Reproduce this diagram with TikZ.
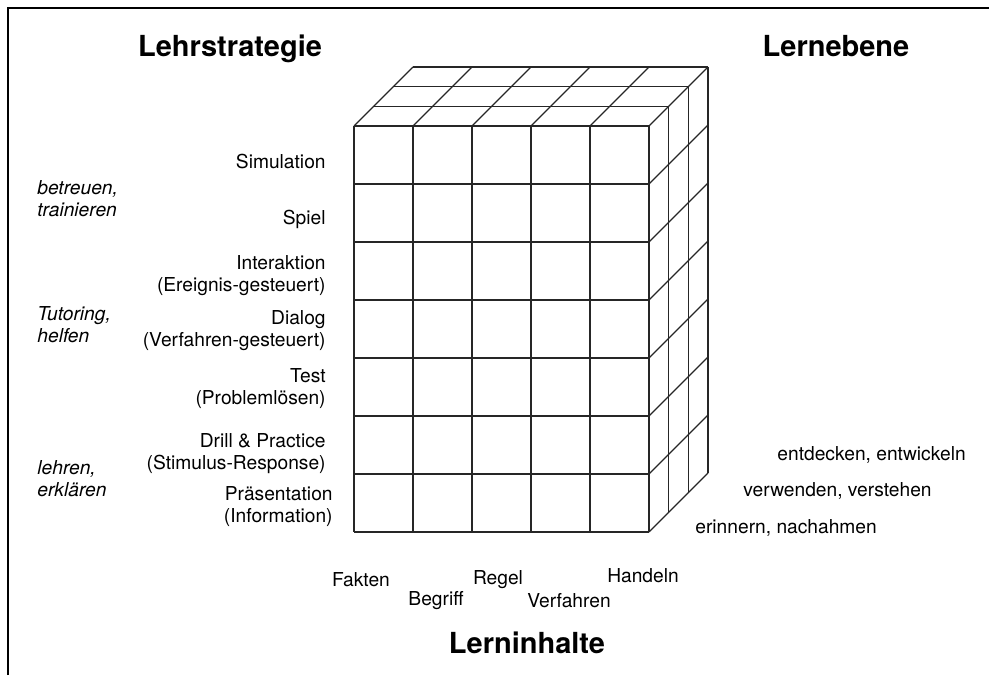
\documentclass[tikz,border=0pt]{standalone}
\usepackage{fontspec}
\setmainfont{TeX Gyre Heros}
\usetikzlibrary{positioning}
\tikzset{
  frm/.style  ={line width=1pt, black},
  cube/.style ={line width=0.6pt, black!85},
  strat/.style={font=\fontsize{9.6}{11}\selectfont, align=right,
                anchor=east, inner sep=0pt},
  mode/.style ={font=\fontsize{9.6}{11}\selectfont\itshape, align=left,
                anchor=west, inner sep=0pt},
  lvl/.style  ={font=\fontsize{9.6}{11}\selectfont, anchor=west,
                inner sep=0pt},
  cnt/.style  ={font=\fontsize{9.6}{11}\selectfont, inner sep=0pt},
  head/.style ={font=\fontsize{14.5}{17}\selectfont\bfseries,
                inner sep=0pt},
}

\begin{document}
\begin{tikzpicture}[x=0.5pt, y=-0.5pt]
  \useasboundingbox (0,0) rectangle (989,675);
  % ---- frame (top and left only)
  \draw[frm] (8,675) -- (8,8) -- (989,8);
  % ---- front face: 5 columns, 7 rows
  \foreach \c in {0,...,5} \draw[cube] (354+59*\c,126) -- (354+59*\c,532);
  \foreach \r in {0,...,7} \draw[cube] (354,126+58*\r) -- (649,126+58*\r);
  % ---- top face: 3 layers deep
  \foreach \c in {0,...,5} \draw[cube] (354+59*\c,126) -- ++(59,-59);
  \foreach \d in {1,2,3} \draw[cube] (354+19.67*\d,126-19.67*\d) -- ++(295,0);
  % ---- right face
  \foreach \r in {1,...,7} \draw[cube] (649,126+58*\r) -- ++(59,-59);
  \foreach \d in {1,2,3} \draw[cube] (649+19.67*\d,126-19.67*\d) -- ++(0,406);
  % ---- axis titles
  \node[head] (lehr)   at (230,49)  {Lehrstrategie};
  \node[head] (ebene)  at (836,46)  {Lernebene};
  \node[head] (inhalt) at (527,643) {Lerninhalte};
  % ---- teaching strategies (rows)
  \node[strat] (sim)   at (326,161)   {Simulation};
  \node[strat] (spiel) at (326,219)   {Spiel};
  \node[strat] (inter) at (326,275.5) {Interaktion\\(Ereignis-gesteuert)};
  \node[strat] (dial)  at (326,331)   {Dialog\\(Verfahren-gesteuert)};
  \node[strat] (test)  at (326,389)   {Test\\(Problemlösen)};
  \node[strat] (drill) at (326,453.5) {Drill \& Practice\\(Stimulus-Response)};
  \node[strat] (praes) at (333,506.5) {Präsentation\\(Information)};
  % ---- teacher roles
  \node[mode] (betr)   at (37,199) {betreuen,\\trainieren};
  \node[mode] (tut)    at (37,325) {Tutoring,\\helfen};
  \node[mode] (lehren) at (37,479) {lehren,\\erklären};
  % ---- learning levels (depth)
  \node[lvl] (entd) at (777,455) {entdecken, entwickeln};
  \node[lvl] (verw) at (743,491) {verwenden, verstehen};
  \node[lvl] (erin) at (695,528) {erinnern, nachahmen};
  % ---- learning contents (columns)
  \node[cnt] (fakt)  at (361,580) {Fakten};
  \node[cnt] (begr)  at (436,601) {Begriff};
  \node[cnt] (regel) at (498,580) {Regel};
  \node[cnt] (verf)  at (569,601) {Verfahren};
  \node[cnt] (hand)  at (643,576) {Handeln};
\end{tikzpicture}
\end{document}
